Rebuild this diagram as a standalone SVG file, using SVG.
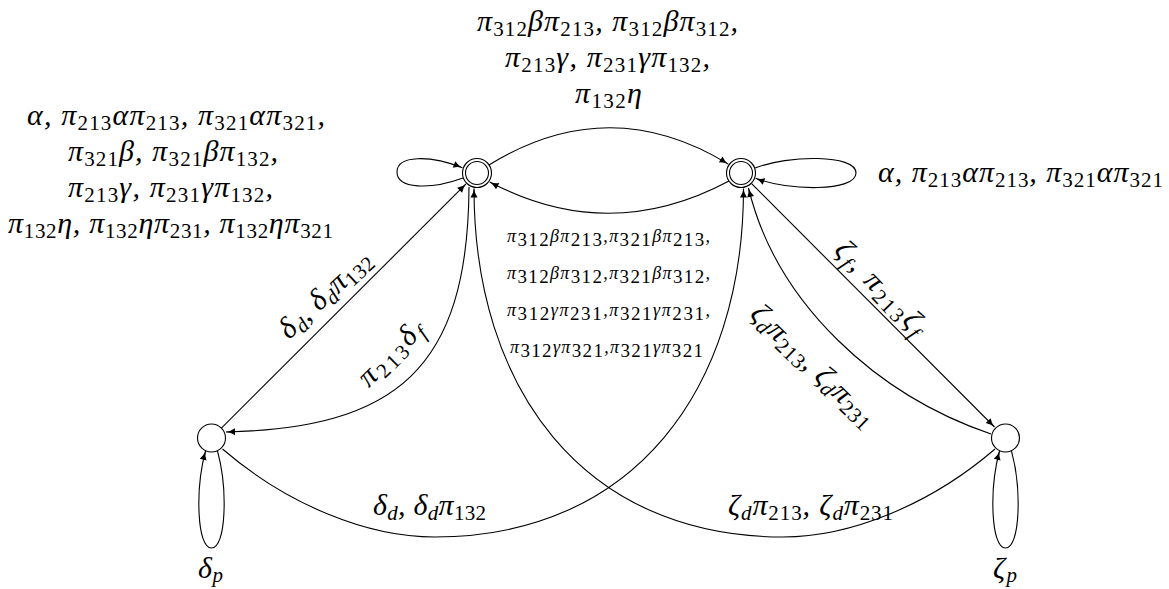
<svg xmlns="http://www.w3.org/2000/svg" width="1169" height="589" viewBox="0 0 1169 589">
<defs>
<style>
.e{fill:none;stroke:#000;stroke-width:1.1}
.nd{fill:#fff;stroke:#000;stroke-width:1.1}
.lb{font-family:"Liberation Serif","DejaVu Serif",serif;font-style:italic;font-size:30px;fill:#000}
.n{font-style:normal;font-size:21px}
.i{font-size:21px}
.sm{font-size:18px}
.sn{font-style:normal;font-size:19px}
</style>
<marker id="ah" markerUnits="userSpaceOnUse" markerWidth="10" markerHeight="8" refX="9" refY="3.5" orient="auto" overflow="visible"><path d="M0,0 Q4,2.8 9,3.5 Q4,4.2 0,7 Z" fill="#000"/></marker>
</defs>
<rect width="1169" height="589" fill="#fff"/>
<g id="node-A"><circle class="nd" cx="477" cy="173" r="14.5"/><circle class="nd" cx="477" cy="173" r="11.5"/></g>
<g id="node-B"><circle class="nd" cx="741" cy="173" r="14.5"/><circle class="nd" cx="741" cy="173" r="11.5"/></g>
<g id="node-C"><circle class="nd" cx="211.5" cy="438" r="14"/></g>
<g id="node-D"><circle class="nd" cx="1005.5" cy="438" r="14"/></g>
<g id="edges">
<path class="e" marker-end="url(#ah)" d="M463,178 C430,190 397,189 397,172 C397,155 430,155 462.4,167.7"/>
<path class="e" marker-end="url(#ah)" d="M755,168 C788,155 856,154 856,173 C856,192 788,191 755.6,178.3"/>
<path class="e" marker-end="url(#ah)" d="M489,165 Q609,91 728.3,164.1"/>
<path class="e" marker-end="url(#ah)" d="M729,181 Q609,245 489.7,181.9"/>
<path class="e" marker-end="url(#ah)" d="M221.4,428.1 L466,183.9"/>
<path class="e" marker-end="url(#ah)" d="M469,187 C468,370 395,428 226,432"/>
<path class="e" marker-end="url(#ah)" d="M995,449 C930,505 850,537 783,537 C583,537 474,388 474,188.5"/>
<path class="e" marker-end="url(#ah)" d="M222.5,449 C287.5,505 367.5,537 434.5,537 C634.5,537 743.5,388 743.5,188.5"/>
<path class="e" marker-end="url(#ah)" d="M751.6,183.6 L994.5,427"/>
<path class="e" marker-end="url(#ah)" d="M991,434 C878,395.6 776.6,304.4 748.5,188"/>
<path class="e" marker-end="url(#ah)" d="M217.5,451 C228,490 226,548 211.5,548 C197,548 195,490 205.5,451"/>
<path class="e" marker-end="url(#ah)" d="M1011.5,451 C1022,490 1020,548 1005.5,548 C991,548 989,490 999.5,451"/>
</g>
<g id="edge-labels" class="lb">
<text x="477" y="31" textLength="261" lengthAdjust="spacing">π<tspan class="n" dy="5">312</tspan><tspan dy="-5">β</tspan>π<tspan class="n" dy="5">213</tspan><tspan dy="-5">, π</tspan><tspan class="n" dy="5">312</tspan><tspan dy="-5">β</tspan>π<tspan class="n" dy="5">312</tspan><tspan dy="-5">,</tspan></text>
<text x="505" y="67" textLength="205" lengthAdjust="spacing">π<tspan class="n" dy="5">213</tspan><tspan dy="-5">γ, π</tspan><tspan class="n" dy="5">231</tspan><tspan dy="-5">γπ</tspan><tspan class="n" dy="5">132</tspan><tspan dy="-5">,</tspan></text>
<text x="575" y="103" textLength="67" lengthAdjust="spacing">π<tspan class="n" dy="5">132</tspan><tspan dy="-5">η</tspan></text>

<text x="27" y="125" textLength="298" lengthAdjust="spacing">α, π<tspan class="n" dy="5">213</tspan><tspan dy="-5">απ</tspan><tspan class="n" dy="5">213</tspan><tspan dy="-5">, π</tspan><tspan class="n" dy="5">321</tspan><tspan dy="-5">απ</tspan><tspan class="n" dy="5">321</tspan><tspan dy="-5">,</tspan></text>
<text x="68" y="161" textLength="210" lengthAdjust="spacing">π<tspan class="n" dy="5">321</tspan><tspan dy="-5">β, π</tspan><tspan class="n" dy="5">321</tspan><tspan dy="-5">βπ</tspan><tspan class="n" dy="5">132</tspan><tspan dy="-5">,</tspan></text>
<text x="68" y="197" textLength="205" lengthAdjust="spacing">π<tspan class="n" dy="5">213</tspan><tspan dy="-5">γ, π</tspan><tspan class="n" dy="5">231</tspan><tspan dy="-5">γπ</tspan><tspan class="n" dy="5">132</tspan><tspan dy="-5">,</tspan></text>
<text x="8" y="233" textLength="325" lengthAdjust="spacing">π<tspan class="n" dy="5">132</tspan><tspan dy="-5">η, π</tspan><tspan class="n" dy="5">132</tspan><tspan dy="-5">ηπ</tspan><tspan class="n" dy="5">231</tspan><tspan dy="-5">, π</tspan><tspan class="n" dy="5">132</tspan><tspan dy="-5">ηπ</tspan><tspan class="n" dy="5">321</tspan></text>

<text x="878" y="182" textLength="285" lengthAdjust="spacing">α, π<tspan class="n" dy="5">213</tspan><tspan dy="-5">απ</tspan><tspan class="n" dy="5">213</tspan><tspan dy="-5">, π</tspan><tspan class="n" dy="5">321</tspan><tspan dy="-5">απ</tspan><tspan class="n" dy="5">321</tspan></text>

<text class="sm" x="507" y="242" textLength="203" lengthAdjust="spacing">π<tspan class="sn" dy="4">312</tspan><tspan dy="-4">βπ</tspan><tspan class="sn" dy="4">213</tspan><tspan dy="-4">,π</tspan><tspan class="sn" dy="4">321</tspan><tspan dy="-4">βπ</tspan><tspan class="sn" dy="4">213</tspan><tspan dy="-4">,</tspan></text>
<text class="sm" x="507" y="279" textLength="203" lengthAdjust="spacing">π<tspan class="sn" dy="4">312</tspan><tspan dy="-4">βπ</tspan><tspan class="sn" dy="4">312</tspan><tspan dy="-4">,π</tspan><tspan class="sn" dy="4">321</tspan><tspan dy="-4">βπ</tspan><tspan class="sn" dy="4">312</tspan><tspan dy="-4">,</tspan></text>
<text class="sm" x="507" y="316" textLength="203" lengthAdjust="spacing">π<tspan class="sn" dy="4">312</tspan><tspan dy="-4">γπ</tspan><tspan class="sn" dy="4">231</tspan><tspan dy="-4">,π</tspan><tspan class="sn" dy="4">321</tspan><tspan dy="-4">γπ</tspan><tspan class="sn" dy="4">231</tspan><tspan dy="-4">,</tspan></text>
<text class="sm" x="510" y="353" textLength="193" lengthAdjust="spacing">π<tspan class="sn" dy="4">312</tspan><tspan dy="-4">γπ</tspan><tspan class="sn" dy="4">321</tspan><tspan dy="-4">,π</tspan><tspan class="sn" dy="4">321</tspan><tspan dy="-4">γπ</tspan><tspan class="sn" dy="4">321</tspan></text>

<text transform="translate(331,301) rotate(-43)" text-anchor="middle" textLength="115" lengthAdjust="spacing">δ<tspan class="i" dy="5">d</tspan><tspan dy="-5">, δ</tspan><tspan class="i" dy="5">d</tspan><tspan dy="-5">π</tspan><tspan class="n" dy="5">132</tspan></text>
<text transform="translate(397,360) rotate(-45)" text-anchor="middle" textLength="80" lengthAdjust="spacing">π<tspan class="n" dy="5">213</tspan><tspan dy="-5">δ</tspan><tspan class="i" dy="5">f</tspan></text>
<text transform="translate(874,294) rotate(46)" text-anchor="middle" textLength="118" lengthAdjust="spacing">ζ<tspan class="i" dy="5">f</tspan><tspan dy="-5">, π</tspan><tspan class="n" dy="5">213</tspan><tspan dy="-5">ζ</tspan><tspan class="i" dy="5">f</tspan></text>
<text transform="translate(807,372) rotate(44)" text-anchor="middle" textLength="162" lengthAdjust="spacing">ζ<tspan class="i" dy="5">d</tspan><tspan dy="-5">π</tspan><tspan class="n" dy="5">213</tspan><tspan dy="-5">, ζ</tspan><tspan class="i" dy="5">d</tspan><tspan dy="-5">π</tspan><tspan class="n" dy="5">231</tspan></text>

<text x="373" y="515" textLength="113" lengthAdjust="spacing">δ<tspan class="i" dy="5">d</tspan><tspan dy="-5">, δ</tspan><tspan class="i" dy="5">d</tspan><tspan dy="-5">π</tspan><tspan class="n" dy="5">132</tspan></text>
<text x="728" y="515" textLength="165" lengthAdjust="spacing">ζ<tspan class="i" dy="5">d</tspan><tspan dy="-5">π</tspan><tspan class="n" dy="5">213</tspan><tspan dy="-5">, ζ</tspan><tspan class="i" dy="5">d</tspan><tspan dy="-5">π</tspan><tspan class="n" dy="5">231</tspan></text>

<text x="198" y="578" textLength="25" lengthAdjust="spacing">δ<tspan class="i" dy="4">p</tspan></text>
<text x="993" y="578" textLength="24" lengthAdjust="spacing">ζ<tspan class="i" dy="4">p</tspan></text>
</g>
</svg>
